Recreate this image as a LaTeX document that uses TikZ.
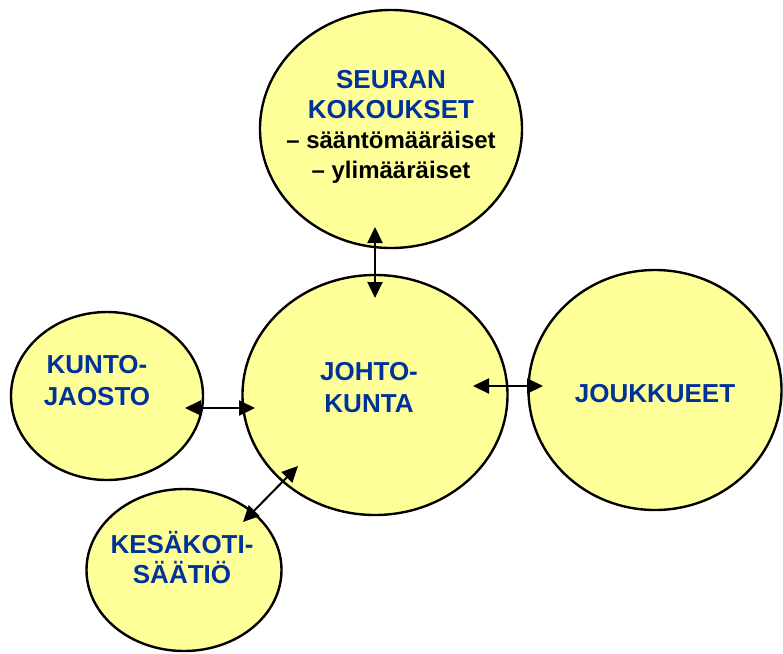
\documentclass[tikz,border=0pt]{standalone}
\usepackage{fontspec}
\setmainfont{Liberation Sans}
\usepackage{tikz}
\usetikzlibrary{shapes.geometric, arrows.meta}
\definecolor{orgblue}{HTML}{003399}
\definecolor{orgyellow}{HTML}{FFFF99}
\tikzstyle{arrow} = [line width=2pt, {Triangle[length=16pt,width=15pt]}-{Triangle[length=16pt,width=15pt]}]

\begin{document}
\begin{tikzpicture}[
    x=1pt, y=-1pt,
    orgbox/.style={ellipse, draw=black, line width=2.4pt, fill=orgyellow, inner sep=0pt},
    title/.style={anchor=base, align=center, text=orgblue, font=\bfseries\fontsize{26}{32}\selectfont},
]
\useasboundingbox (0,0) rectangle (783,653);

% Ellipses
\node[orgbox, minimum width=262pt, minimum height=238pt] (seuran) at (391, 129) {};
\node[orgbox, minimum width=265pt, minimum height=240pt] (johto) at (375, 395) {};
\node[orgbox, minimum width=253pt, minimum height=240pt] (joukkueet) at (655, 390) {};
\node[orgbox, minimum width=192pt, minimum height=168pt] (kunto) at (107, 396) {};
\node[orgbox, minimum width=195pt, minimum height=162pt] (kesakoti) at (184, 570) {};

% Texts (placed at the baseline of the last line)
\node[title, font=\bfseries\fontsize{26}{30}\selectfont] (seurantext) at (391, 178) {SEURAN\\KOKOUKSET\\
    {\color{black}\fontsize{24}{30}\selectfont -- sääntömääräiset}\\
    {\color{black}\fontsize{24}{31}\selectfont -- ylimääräiset}};
\node[title] (johtotext) at (369, 412) {JOHTO-\\KUNTA};
\node[title] (joukkueettext) at (655, 402) {JOUKKUEET};
\node[title] (kuntotext) at (97, 405) {KUNTO-\\JAOSTO};
\node[title, font=\bfseries\fontsize{26}{30}\selectfont] (kesakotitext) at (182, 583) {KESÄKOTI-\\SÄÄTIÖ};

% Arrow ends
\coordinate (seuranend) at (375, 227);
\coordinate (johtotop) at (375, 298);
\coordinate (johtoright) at (473, 386);
\coordinate (joukkueetend) at (543, 386);
\coordinate (kuntoend) at (185, 408);
\coordinate (johtoleft) at (255, 408);
\coordinate (kesakotiend) at (243, 522);
\coordinate (johtolow) at (298, 466);

% Arrows
\draw[arrow] (seuranend) -- (johtotop);
\draw[arrow] (johtoright) -- (joukkueetend);
\draw[arrow] (kuntoend) -- (johtoleft);
\draw[arrow] (kesakotiend) -- (johtolow);

\end{tikzpicture}
\end{document}
